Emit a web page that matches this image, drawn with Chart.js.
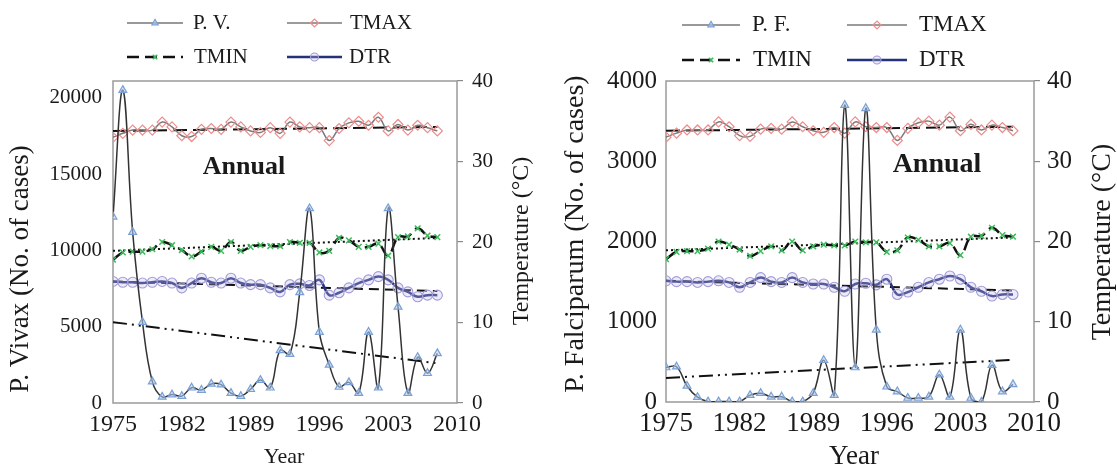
<!DOCTYPE html>
<html>
<head>
<meta charset="utf-8">
<script src="https://cdn.jsdelivr.net/npm/chart.js@4.4.1/dist/chart.umd.min.js"></script>
<style>
  html, body { margin: 0; padding: 0; background: #fff; }
  #wrap { position: relative; width: 1117px; height: 468px; overflow: hidden; }
  .panel { position: absolute; top: 0; }
  #panelPV { left: 0; }
  #panelPF { left: 558px; }
</style>
</head>
<body>
<div id="wrap">
  <div class="panel" id="panelPV"><canvas id="chartPV" width="558" height="468"></canvas></div>
  <div class="panel" id="panelPF"><canvas id="chartPF" width="559" height="468"></canvas></div>
</div>
<script>
'use strict';

const years = [1975, 1976, 1977, 1978, 1979, 1980, 1981, 1982, 1983, 1984, 1985, 1986,
               1987, 1988, 1989, 1990, 1991, 1992, 1993, 1994, 1995, 1996, 1997, 1998,
               1999, 2000, 2001, 2002, 2003, 2004, 2005, 2006, 2007, 2008];
const yearTicks = [1975, 1982, 1989, 1996, 2003, 2010];
const tempTicks = [0, 10, 20, 30, 40];
const pvTicks = [0, 5000, 10000, 15000, 20000];
const pfTicks = [0, 1000, 2000, 3000, 4000];

// annual malaria cases
const pvCases = [12200, 20500, 11200, 5300, 1400, 400, 550, 450, 1000, 850, 1250, 1200,
                 650, 450, 900, 1500, 1000, 3450, 3200, 7250, 12750, 4650, 2500, 1050,
                 1350, 650, 4650, 1000, 12750, 6300, 650, 3000, 1950, 3250];
const pfCases = [430, 440, 200, 60, 5, 5, 5, 5, 85, 110, 65, 65,
                 5, 5, 110, 520, 85, 3700, 430, 3660, 900, 190, 130, 50,
                 50, 65, 340, 65, 900, 50, 0, 460, 130, 220];

// annual temperatures (deg C)
const tmax = [33.0, 33.5, 33.9, 33.9, 33.9, 34.9, 34.3, 33.2, 33.1, 34.0, 34.1, 34.0,
              34.9, 34.3, 33.8, 33.6, 34.2, 33.5, 34.9, 34.3, 34.2, 34.2, 32.6, 34.1,
              34.8, 35.0, 34.5, 35.5, 33.8, 34.6, 33.9, 34.5, 34.2, 33.8];
const tmin = [17.8, 18.7, 18.8, 18.8, 19.1, 20.0, 19.6, 19.0, 18.2, 18.8, 19.4, 18.9,
              20.0, 18.9, 19.4, 19.6, 19.5, 19.5, 20.0, 19.9, 19.9, 18.7, 18.9, 20.5,
              20.2, 19.4, 19.4, 19.8, 18.3, 20.6, 20.7, 21.7, 20.8, 20.6];
const dtr = [15.1, 15.0, 15.0, 14.9, 15.0, 15.1, 14.9, 14.3, 14.9, 15.5, 15.0, 14.9,
             15.5, 14.9, 14.7, 14.7, 14.3, 13.8, 14.7, 14.8, 14.6, 15.3, 13.4, 13.7,
             14.3, 14.9, 15.3, 15.7, 15.3, 14.3, 13.8, 13.2, 13.4, 13.4];

// linear trend lines, start and end values
const trendYears = [1975, 2008];
const pvTrend = [5300, 2600];
const pfTrend = [300, 525];
const tmaxTrend = [33.8, 34.3];
const tminTrend = [18.9, 20.5];
const dtrTrend = [15.1, 13.9];

const SERIF = "'Liberation Serif', 'DejaVu Serif', 'Times New Roman', serif";

function pts(xs, ys) {
    return xs.map(function(x, i) { return { x: x, y: ys[i] }; });
}

function trend(values, yAxisID, dash) {
    return {
        data: pts(trendYears, values),
        yAxisID: yAxisID,
        borderColor: '#111',
        borderWidth: 2,
        borderDash: dash,
        pointRadius: 0,
        tension: 0
    };
}

function buildDatasets(label, cases, casesTrend) {
    return [
        {
            label: label,
            data: pts(years, cases),
            yAxisID: 'y',
            borderColor: '#333',
            borderWidth: 1.5,
            tension: 0.4,
            pointStyle: 'triangle',
            pointRadius: 4.5,
            pointBorderWidth: 1.2,
            pointBorderColor: '#78a0d6',
            pointBackgroundColor: 'rgba(185, 208, 238, 0.55)'
        },
        {
            label: 'TMAX',
            data: pts(years, tmax),
            yAxisID: 'y1',
            borderColor: '#7a7a7a',
            borderWidth: 1.5,
            tension: 0.4,
            pointStyle: 'rectRot',
            pointRadius: 5,
            pointBorderWidth: 1.2,
            pointBorderColor: '#ec8c8c',
            pointBackgroundColor: 'rgba(255, 255, 255, 0)'
        },
        {
            label: 'TMIN',
            data: pts(years, tmin),
            yAxisID: 'y1',
            borderColor: '#111',
            borderWidth: 2.5,
            borderDash: [12, 6],
            tension: 0.4,
            pointStyle: 'crossRot',
            pointRadius: 4,
            pointBorderWidth: 1.5,
            pointBorderColor: '#3dbb5c',
            pointBackgroundColor: '#3dbb5c'
        },
        {
            label: 'DTR',
            data: pts(years, dtr),
            yAxisID: 'y1',
            borderColor: '#25327a',
            borderWidth: 2.5,
            tension: 0.4,
            pointStyle: 'circle',
            pointRadius: 5,
            pointBorderWidth: 1.1,
            pointBorderColor: '#a39bd6',
            pointBackgroundColor: 'rgba(196, 188, 234, 0.3)'
        },
        trend(casesTrend, 'y', [14, 5, 2, 5, 2, 5]),
        trend(tmaxTrend, 'y1', [14, 6]),
        trend(tminTrend, 'y1', [2, 3]),
        trend(dtrTrend, 'y1', [10, 6])
    ];
}

function fixedTicks(values) {
    return function(scale) {
        scale.ticks = values.map(function(v) { return { value: v }; });
    };
}

function buildScales(caseTicks, caseMax, f) {
    const tickFont = { family: SERIF, size: f.ytick };
    return {
        x: {
            type: 'linear',
            min: 1975,
            max: 2010,
            afterBuildTicks: fixedTicks(yearTicks),
            afterFit: function(s) { s.height = f.xh; },
            grid: { display: false, drawTicks: false },
            border: { display: false },
            ticks: {
                font: { family: SERIF, size: f.xtick },
                color: '#1a1a1a',
                padding: f.xpad,
                maxRotation: 0,
                autoSkip: false,
                callback: function(v) { return String(v); }
            }
        },
        y: {
            position: 'left',
            min: 0,
            max: caseMax,
            afterBuildTicks: fixedTicks(caseTicks),
            afterFit: function(s) { s.width = f.yw; },
            grid: { display: false, drawTicks: false },
            border: { display: false },
            ticks: {
                font: tickFont,
                color: '#1a1a1a',
                padding: f.ypad,
                callback: function(v) { return String(v); }
            }
        },
        y1: {
            position: 'right',
            min: 0,
            max: 40,
            afterBuildTicks: fixedTicks(tempTicks),
            afterFit: function(s) { s.width = f.y1w; },
            grid: { display: true, drawOnChartArea: false, drawTicks: true, tickLength: 6, color: '#8a8a8a', lineWidth: 1.2 },
            border: { display: false },
            ticks: {
                font: tickFont,
                color: '#1a1a1a',
                padding: f.y1pad,
                callback: function(v) { return String(v); }
            }
        }
    };
}

// frame, axis titles, legend and panel caption
const panelDecor = {
    id: 'panelDecor',
    beforeDatasetsDraw: function(chart) {
        const a = chart.chartArea;
        const ctx = chart.ctx;
        ctx.save();
        ctx.strokeStyle = '#9a9a9a';
        ctx.lineWidth = 1.5;
        ctx.strokeRect(a.left, a.top, a.right - a.left, a.bottom - a.top);
        ctx.restore();
    },
    afterDraw: function(chart, args, opts) {
        const ctx = chart.ctx;
        ctx.save();
        ctx.fillStyle = '#1a1a1a';
        ctx.textBaseline = 'middle';

        opts.texts.forEach(function(t) {
            ctx.save();
            ctx.translate(t.x, t.y);
            ctx.rotate(t.rotate || 0);
            ctx.font = (t.bold ? 'bold ' : '') + t.size + 'px ' + SERIF;
            ctx.textAlign = 'center';
            ctx.fillText(t.text, 0, 0);
            ctx.restore();
        });

        ctx.font = opts.legendSize + 'px ' + SERIF;
        ctx.textAlign = 'left';
        opts.legend.forEach(function(item) {
            const ds = chart.data.datasets[item.ds];
            ctx.save();
            ctx.strokeStyle = item.ds === 0 ? '#777' : ds.borderColor;
            ctx.lineWidth = ds.borderWidth;
            ctx.setLineDash(ds.borderDash || []);
            ctx.beginPath();
            ctx.moveTo(item.x0, item.y);
            ctx.lineTo(item.x1, item.y);
            ctx.stroke();
            ctx.setLineDash([]);
            ctx.strokeStyle = ds.pointBorderColor;
            ctx.fillStyle = ds.pointBackgroundColor;
            ctx.lineWidth = ds.pointBorderWidth;
            // legend symbols are a bit smaller than the plotted markers
            Chart.helpers.drawPoint(ctx, {
                pointStyle: ds.pointStyle,
                radius: ds.pointRadius * 0.8,
                rotation: 0,
                borderWidth: ds.pointBorderWidth
            }, (item.x0 + item.x1) / 2, item.y);
            ctx.restore();
            ctx.fillText(ds.label, item.tx, item.y);
        });
        ctx.restore();
    }
};

function makeChart(canvasId, cfg) {
    const canvas = document.getElementById(canvasId);
    if (!canvas) return;
    new Chart(canvas.getContext('2d'), {
        type: 'line',
        data: { datasets: buildDatasets(cfg.label, cfg.cases, cfg.trend) },
        options: {
            responsive: false,
            animation: false,
            events: [],
            layout: { padding: { top: cfg.top, left: 0, right: 0, bottom: 0 } },
            scales: buildScales(cfg.ticks, cfg.max, cfg.fit),
            plugins: {
                legend: { display: false },
                tooltip: { enabled: false },
                panelDecor: cfg.decor
            }
        },
        plugins: [panelDecor]
    });
}

makeChart('chartPV', {
    label: 'P. V.',
    cases: pvCases,
    trend: pvTrend,
    ticks: pvTicks,
    max: 21100,
    top: 81,
    fit: { xh: 65, yw: 113, y1w: 101, xtick: 24, ytick: 21, xpad: 7, ypad: 11, y1pad: 9 },
    decor: {
        legendSize: 21,
        legend: [
            { ds: 0, x0: 127, x1: 183, tx: 193, y: 23 },
            { ds: 1, x0: 287, x1: 342, tx: 350, y: 23 },
            { ds: 2, x0: 127, x1: 183, tx: 194, y: 57 },
            { ds: 3, x0: 287, x1: 342, tx: 349, y: 57 }
        ],
        texts: [
            { text: 'P. Vivax (No. of cases)', x: 21, y: 269, size: 27, rotate: -Math.PI / 2 },
            { text: 'Temperature (°C)', x: 522, y: 241, size: 24, rotate: -Math.PI / 2 },
            { text: 'Year', x: 284, y: 457, size: 22 },
            { text: 'Annual', x: 244, y: 167, size: 26, bold: true }
        ]
    }
});

makeChart('chartPF', {
    label: 'P. F.',
    cases: pfCases,
    trend: pfTrend,
    ticks: pfTicks,
    max: 4000,
    top: 81,
    fit: { xh: 66, yw: 108, y1w: 83, xtick: 27, ytick: 25, xpad: 6, ypad: 9, y1pad: 7 },
    decor: {
        legendSize: 23,
        legend: [
            { ds: 0, x0: 124, x1: 182, tx: 194, y: 25 },
            { ds: 1, x0: 289, x1: 349, tx: 361, y: 25 },
            { ds: 2, x0: 124, x1: 182, tx: 195, y: 60 },
            { ds: 3, x0: 289, x1: 349, tx: 361, y: 60 }
        ],
        texts: [
            { text: 'P. Falciparum (No. of cases)', x: 18, y: 234, size: 28, rotate: -Math.PI / 2 },
            { text: 'Temperature (°C)', x: 545, y: 242, size: 28, rotate: -Math.PI / 2 },
            { text: 'Year', x: 296, y: 457, size: 27 },
            { text: 'Annual', x: 379, y: 165, size: 28, bold: true }
        ]
    }
});
</script>
</body>
</html>
